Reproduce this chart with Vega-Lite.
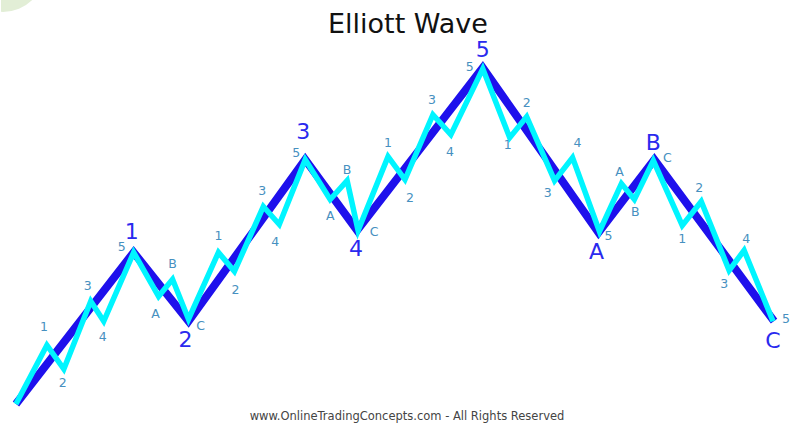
{
  "$schema": "https://vega.github.io/schema/vega-lite/v6.json",
  "width": 790,
  "height": 423,
  "autosize": {"type": "fit", "contains": "padding"},
  "padding": 0,
  "background": "white",
  "config": {"view": {"stroke": null}, "font": "Liberation Sans"},
  "datasets": {
    "deco": [{"x": 2, "y": -30}],
    "major": [
      {"i": 0, "x": 15, "y": 405},
      {"i": 1, "x": 133, "y": 253},
      {"i": 2, "x": 188, "y": 322},
      {"i": 3, "x": 305, "y": 160},
      {"i": 4, "x": 357, "y": 231},
      {"i": 5, "x": 483, "y": 68},
      {"i": 6, "x": 599, "y": 233},
      {"i": 7, "x": 655, "y": 160},
      {"i": 8, "x": 775, "y": 322}
    ],
    "minor": [
      {"i": 0, "x": 15, "y": 405},
      {"i": 1, "x": 46, "y": 346},
      {"i": 2, "x": 63, "y": 370},
      {"i": 3, "x": 90, "y": 302},
      {"i": 4, "x": 103, "y": 322},
      {"i": 5, "x": 133, "y": 253},
      {"i": 6, "x": 158, "y": 297},
      {"i": 7, "x": 172, "y": 280},
      {"i": 8, "x": 188, "y": 320},
      {"i": 9, "x": 218, "y": 253},
      {"i": 10, "x": 234, "y": 272},
      {"i": 11, "x": 263, "y": 207},
      {"i": 12, "x": 279, "y": 225},
      {"i": 13, "x": 305, "y": 160},
      {"i": 14, "x": 330, "y": 200},
      {"i": 15, "x": 347, "y": 181},
      {"i": 16, "x": 358, "y": 231},
      {"i": 17, "x": 388, "y": 157},
      {"i": 18, "x": 405, "y": 180},
      {"i": 19, "x": 433, "y": 115},
      {"i": 20, "x": 451, "y": 135},
      {"i": 21, "x": 483, "y": 69},
      {"i": 22, "x": 510, "y": 138},
      {"i": 23, "x": 527, "y": 117},
      {"i": 24, "x": 555, "y": 181},
      {"i": 25, "x": 573, "y": 158},
      {"i": 26, "x": 600, "y": 232},
      {"i": 27, "x": 622, "y": 184},
      {"i": 28, "x": 635, "y": 200},
      {"i": 29, "x": 654, "y": 161},
      {"i": 30, "x": 683, "y": 226},
      {"i": 31, "x": 702, "y": 202},
      {"i": 32, "x": 730, "y": 271},
      {"i": 33, "x": 745, "y": 251},
      {"i": 34, "x": 774, "y": 322}
    ],
    "small": [
      {"t": "1", "x": 43, "y": 328}, {"t": "2", "x": 62, "y": 384}, {"t": "3", "x": 87, "y": 287}, {"t": "4", "x": 102, "y": 338}, {"t": "5", "x": 121, "y": 248},
      {"t": "A", "x": 155, "y": 315}, {"t": "B", "x": 172, "y": 265}, {"t": "C", "x": 200, "y": 327},
      {"t": "1", "x": 218, "y": 237}, {"t": "2", "x": 235, "y": 291}, {"t": "3", "x": 262, "y": 191}, {"t": "4", "x": 275, "y": 243}, {"t": "5", "x": 296, "y": 153},
      {"t": "A", "x": 330, "y": 217}, {"t": "B", "x": 347, "y": 170}, {"t": "C", "x": 374, "y": 233},
      {"t": "1", "x": 388, "y": 143}, {"t": "2", "x": 410, "y": 198}, {"t": "3", "x": 432, "y": 100}, {"t": "4", "x": 450, "y": 152}, {"t": "5", "x": 470, "y": 67},
      {"t": "1", "x": 508, "y": 145}, {"t": "2", "x": 527, "y": 103}, {"t": "3", "x": 548, "y": 193}, {"t": "4", "x": 578, "y": 143}, {"t": "5", "x": 609, "y": 237},
      {"t": "A", "x": 620, "y": 172}, {"t": "B", "x": 636, "y": 213}, {"t": "C", "x": 668, "y": 158},
      {"t": "1", "x": 683, "y": 240}, {"t": "2", "x": 700, "y": 188}, {"t": "3", "x": 725, "y": 285}, {"t": "4", "x": 747, "y": 240}, {"t": "5", "x": 787, "y": 320}
    ],
    "big": [
      {"t": "1", "x": 131, "y": 233}, {"t": "2", "x": 185, "y": 341}, {"t": "3", "x": 303, "y": 132}, {"t": "4", "x": 356, "y": 250},
      {"t": "5", "x": 483, "y": 50}, {"t": "A", "x": 597, "y": 253}, {"t": "B", "x": 654, "y": 143}, {"t": "C", "x": 774, "y": 342}
    ],
    "notes": [
      {"t": "Elliott Wave", "x": 408, "y": 25, "kind": "title"},
      {"t": "www.OnlineTradingConcepts.com - All Rights Reserved", "x": 407, "y": 418, "kind": "footer"}
    ]
  },
  "encoding": {
    "x": {"field": "x", "type": "quantitative", "scale": {"domain": [0, 790]}, "axis": null},
    "y": {"field": "y", "type": "quantitative", "scale": {"domain": [423, 0]}, "axis": null}
  },
  "layer": [
    {
      "data": {"name": "deco"},
      "mark": {"type": "point", "shape": "circle", "filled": true, "color": "#e2eed6", "opacity": 1, "size": 7000, "clip": true}
    },
    {
      "data": {"name": "major"},
      "mark": {"type": "line", "color": "#1e10ec", "strokeWidth": 8, "strokeJoin": "miter", "strokeCap": "butt"},
      "encoding": {"order": {"field": "i", "type": "quantitative"}}
    },
    {
      "data": {"name": "minor"},
      "mark": {"type": "line", "color": "#00f5ff", "strokeWidth": 5.5, "strokeJoin": "miter", "strokeCap": "butt"},
      "encoding": {"order": {"field": "i", "type": "quantitative"}}
    },
    {
      "data": {"name": "small"},
      "mark": {"type": "text", "color": "#4690c0", "fontSize": 12.5, "font": "DejaVu Sans", "baseline": "middle", "align": "center"},
      "encoding": {"text": {"field": "t"}}
    },
    {
      "data": {"name": "big"},
      "mark": {"type": "text", "color": "#2a2aee", "fontSize": 22, "font": "DejaVu Sans", "baseline": "middle", "align": "center"},
      "encoding": {"text": {"field": "t"}}
    },
    {
      "data": {"name": "notes"},
      "transform": [{"filter": "datum.kind == 'title'"}],
      "mark": {"type": "text", "color": "#111111", "fontSize": 27, "font": "DejaVu Sans", "baseline": "middle", "align": "center"},
      "encoding": {"text": {"field": "t"}}
    },
    {
      "data": {"name": "notes"},
      "transform": [{"filter": "datum.kind == 'footer'"}],
      "mark": {"type": "text", "color": "#444444", "fontSize": 11.5, "font": "DejaVu Sans", "baseline": "middle", "align": "center"},
      "encoding": {"text": {"field": "t"}}
    }
  ]
}
